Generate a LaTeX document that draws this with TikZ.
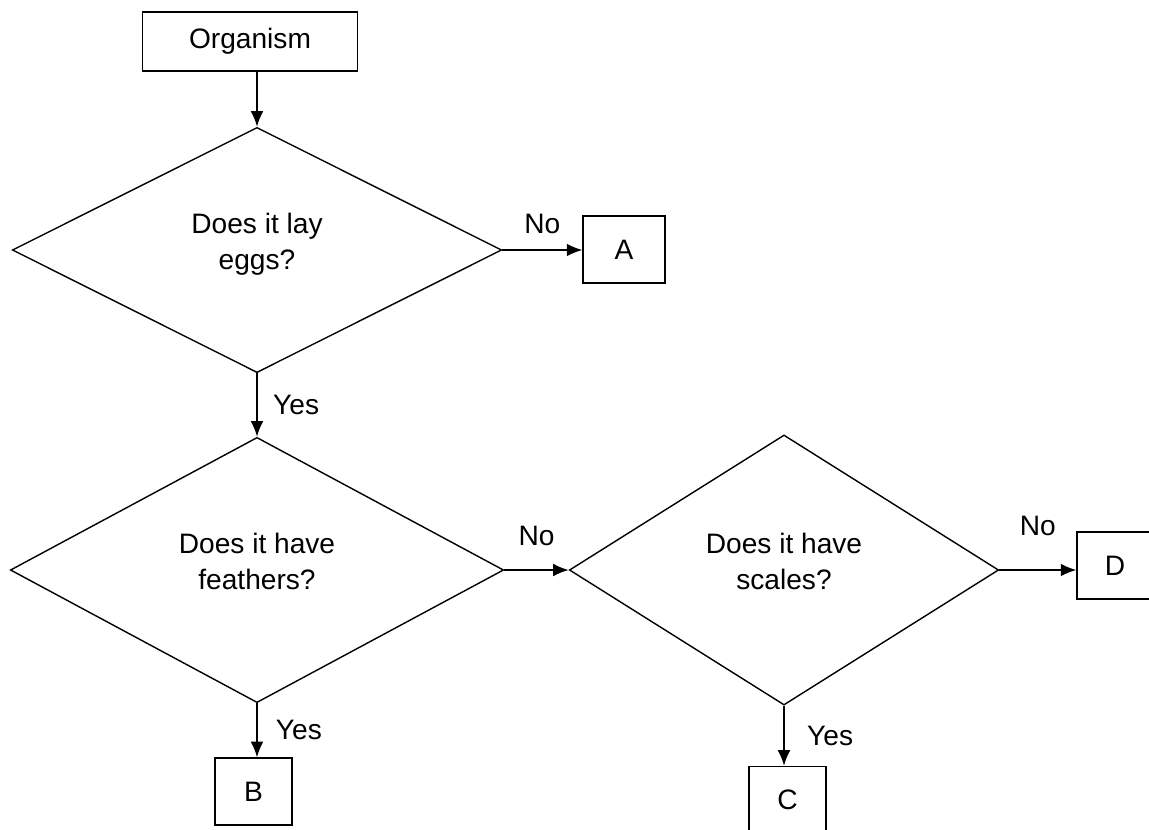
\documentclass[tikz,border=0pt]{standalone}
\usepackage{fontspec}
\setmainfont{Liberation Sans}
\usepackage{tikz}
\usetikzlibrary{shapes,arrows.meta}

\begin{document}
\begin{tikzpicture}[x=0.025cm,y=-0.025cm,
  every node/.style={font=\fontsize{20}{25.6}\selectfont},
  question/.style={draw,diamond,inner sep=0pt,line width=1pt,align=center},
  answer/.style={draw,rectangle,inner sep=0pt,line width=1pt,minimum width=1.93cm,minimum height=1.68cm},
  link/.style={line width=1pt,-{Latex[length=11pt,width=9pt]}}]
\useasboundingbox (0,0) rectangle (1149,829);

\node[name=Organism,answer,minimum width=5.38cm,minimum height=1.48cm] at (250,41.5) {Organism};
\node[name=Lay-Eggs,question,minimum width=12.23cm,minimum height=6.13cm] at (257,250) {Does it lay\\eggs?\\[-13pt]};
\node[name=Feathers,question,minimum width=12.33cm,minimum height=6.63cm] at (257,570) {Does it have\\feathers?\\[-13pt]};
\node[name=Scales,question,minimum width=10.73cm,minimum height=6.75cm] at (784,570) {Does it have\\scales?\\[-13pt]};
\node[name=Box-A,answer,minimum width=2.05cm] at (624,249.5) {A};
\node[name=Box-B,answer] at (253.5,791.5) {B};
\node[name=Box-C,answer] at (787.5,800) {C};
\node[name=Box-D,answer,minimum width=1.9cm] at (1115,565.5) {D};

\draw[link] (Organism.south -| Lay-Eggs.north) -- (Lay-Eggs.north);
\draw[link] (Lay-Eggs.east) -- node[name=No-1, midway, above=11pt, inner sep=0pt] {No} (Lay-Eggs.east -| Box-A.west);
\draw[link] (Lay-Eggs.south) -- node[name=Yes-1, midway, right=11pt, inner sep=0pt] {Yes} (Feathers.north);
\draw[link] (Feathers.east) -- node[name=No-2, midway, above=17pt, inner sep=0pt] {No} (Scales.west);
\draw[link] (Scales.east) -- node[name=No-3, midway, above=24pt, inner sep=0pt] {No} (Scales.east -| Box-D.west);
\draw[link] (Feathers.south) -- node[name=Yes-2, midway, right=13pt, inner sep=0pt] {Yes} (Feathers.south |- Box-B.north);
\draw[link] (Scales.south) -- node[name=Yes-3, midway, right=16pt, inner sep=0pt] {Yes} (Scales.south |- Box-C.north);
\end{tikzpicture}
\end{document}
